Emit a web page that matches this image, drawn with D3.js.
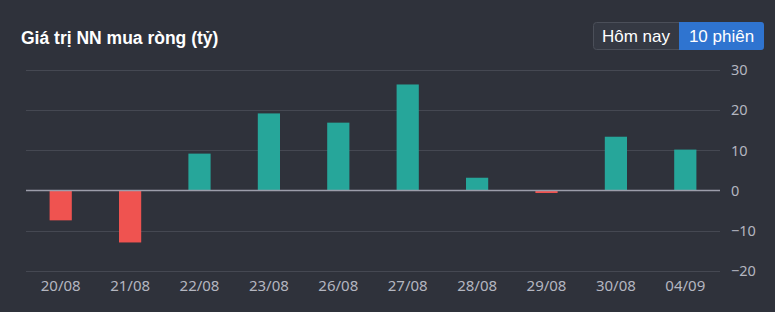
<!DOCTYPE html>
<html>
<head>
<meta charset="utf-8">
<script src="https://cdn.jsdelivr.net/npm/d3@7"></script>
<style>
  html, body { margin: 0; padding: 0; background: #2f323b; }
  svg { display: block; }
</style>
</head>
<body>
<svg id="chart" width="775" height="312"></svg>
<script>
var dates = ["20/08", "21/08", "22/08", "23/08", "26/08", "27/08", "28/08", "29/08", "30/08", "04/09"];
var values = [-7.4, -12.9, 9.2, 19.2, 16.9, 26.4, 3.2, -0.6, 13.4, 10.2];
var yTicks = [-20, -10, 0, 10, 20, 30];
var titleText = "Giá trị NN mua ròng (tỷ)";
var buttons = ["Hôm nay", "10 phiên"];

var svg = d3.select("#chart");
var W = 775, H = 312;
var plotLeft = 26, plotRight = 720, plotTop = 70, plotBottom = 271;

svg.append("rect").attr("width", W).attr("height", H).attr("fill", "#2f323b");

var x = d3.scaleBand().domain(dates).range([plotLeft, plotRight]).paddingInner(0.68).paddingOuter(0.34);
var y = d3.scaleLinear().domain([-20, 30]).range([plotBottom, plotTop]);

// grid
svg.append("g").selectAll("line").data(yTicks.filter(function (d) { return d !== 0; }))
  .enter().append("line")
  .attr("x1", plotLeft).attr("x2", plotRight)
  .attr("y1", function (d) { return Math.round(y(d)) + 0.5; })
  .attr("y2", function (d) { return Math.round(y(d)) + 0.5; })
  .attr("stroke", "#454852").attr("stroke-width", 1);

// y axis labels
var yAxis = d3.axisRight(y).tickValues(yTicks).tickSize(0).tickPadding(11);
var ya = svg.append("g").attr("transform", "translate(" + plotRight + ",0)").call(yAxis);
ya.select(".domain").remove();
ya.selectAll("text").attr("fill", "#b4b6c0").style("font-family", "'Noto Sans', sans-serif").style("font-size", "14.5px");

// bars
svg.append("g").selectAll("rect").data(values).enter().append("rect")
  .attr("x", function (d, i) { return x(dates[i]); })
  .attr("width", x.bandwidth())
  .attr("y", function (d) { return d >= 0 ? y(d) : y(0); })
  .attr("height", function (d) { return Math.abs(y(d) - y(0)); })
  .attr("fill", function (d) { return d >= 0 ? "#26a69a" : "#ef5350"; });

// zero line
svg.append("line").attr("x1", plotLeft).attr("x2", plotRight)
  .attr("y1", y(0)).attr("y2", y(0))
  .attr("stroke", "#9c9daa").attr("stroke-width", 1.5);

// x axis labels
var xAxis = d3.axisBottom(x).tickSize(0).tickPadding(9);
var xa = svg.append("g").attr("transform", "translate(0," + plotBottom + ")").call(xAxis);
xa.select(".domain").remove();
xa.selectAll("text").attr("fill", "#b4b6c0").style("font-family", "'Noto Sans', sans-serif").style("font-size", "15px");

// title
svg.append("text").attr("x", 21).attr("y", 44)
  .attr("fill", "#ffffff").style("font-family", "'Liberation Sans', Arial, sans-serif")
  .style("font-size", "17.5px").style("font-weight", "bold").text(titleText);

// button group
var bx = [593, 679, 764], by = 22, bh = 28;
var bg = svg.append("g");
bg.append("rect").attr("x", bx[0] + 0.5).attr("y", by + 0.5).attr("width", bx[2] - bx[0] - 1).attr("height", bh - 1)
  .attr("rx", 3).attr("fill", "#353943").attr("stroke", "#4b4f59");
bg.append("path")
  .attr("d", "M" + bx[1] + "," + by + "H" + (bx[2] - 3) + "a3,3 0 0 1 3,3V" + (by + bh - 3) + "a3,3 0 0 1 -3,3H" + bx[1] + "Z")
  .attr("fill", "#2f74d0");
buttons.forEach(function (b, i) {
  bg.append("text").attr("x", (bx[i] + bx[i + 1]) / 2).attr("y", by + 20)
    .attr("text-anchor", "middle").attr("fill", "#ffffff")
    .style("font-family", "'Liberation Sans', Arial, sans-serif").style("font-size", "17px").text(b);
});
</script>
</body>
</html>
